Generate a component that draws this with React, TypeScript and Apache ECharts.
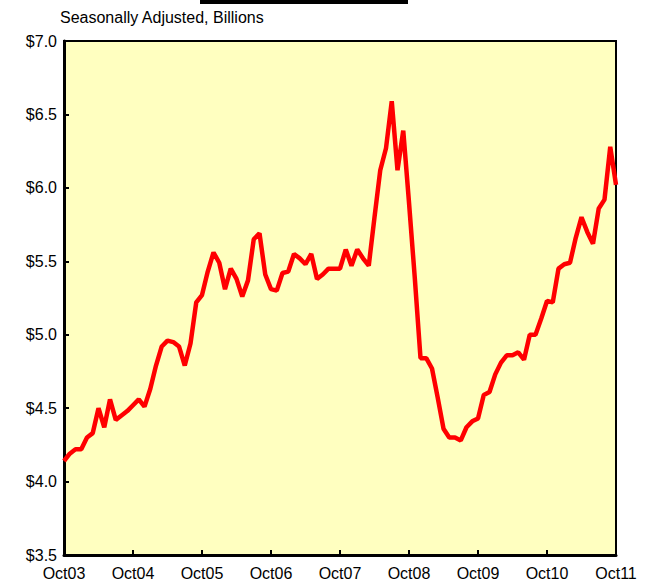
import React, { useEffect, useRef } from "react";
import * as echarts from "echarts";

const subtitle = "Seasonally Adjusted, Billions";
const yearLabels = ["Oct03", "Oct04", "Oct05", "Oct06", "Oct07", "Oct08", "Oct09", "Oct10", "Oct11"];
const monthNames = ["Oct", "Nov", "Dec", "Jan", "Feb", "Mar", "Apr", "May", "Jun", "Jul", "Aug", "Sep"];

const values = [
  4.14, 4.19, 4.22, 4.22, 4.30, 4.33, 4.50, 4.37, 4.56, 4.42, 4.45, 4.48,
  4.52, 4.56, 4.51, 4.63, 4.79, 4.92, 4.96, 4.95, 4.92, 4.79, 4.94, 5.22,
  5.27, 5.43, 5.56, 5.49, 5.31, 5.45, 5.38, 5.26, 5.37, 5.65, 5.69, 5.41,
  5.31, 5.30, 5.42, 5.43, 5.55, 5.52, 5.48, 5.55, 5.38, 5.41, 5.45, 5.45,
  5.45, 5.58, 5.47, 5.58, 5.52, 5.47, 5.80, 6.12, 6.27, 6.59, 6.12, 6.39,
  5.90, 5.39, 4.84, 4.84, 4.77, 4.57, 4.36, 4.30, 4.30, 4.28, 4.37, 4.41,
  4.43, 4.59, 4.61, 4.73, 4.81, 4.86, 4.86, 4.88, 4.83, 5.00, 5.00, 5.11,
  5.23, 5.22, 5.45, 5.48, 5.49, 5.66, 5.80, 5.70, 5.62, 5.86, 5.92, 6.28,
  6.02,
];

// month categories: Oct03 ... Oct11
const categories: string[] = values.map((_, i) => {
  const m = i % 12;
  const yr = 3 + Math.floor((i + 9) / 12);
  return monthNames[m] + String(yr).padStart(2, "0");
});

export default function App() {
  const ref = useRef<HTMLDivElement>(null);
  useEffect(() => {
    const chart = echarts.init(ref.current!, null, { renderer: "svg" });
    const font = "Arial, 'Liberation Sans', sans-serif";
    chart.setOption({
      animation: false,
      backgroundColor: "#ffffff",
      textStyle: { fontFamily: font },
      graphic: [
        { type: "rect", shape: { x: 200, y: 0, width: 208, height: 4 }, style: { fill: "#000" } },
        {
          type: "text",
          left: 60,
          top: 9,
          style: { text: subtitle, fontSize: 16, fill: "#000", fontFamily: font },
        },
      ],
      grid: {
        left: 64,
        right: 31,
        top: 41,
        bottom: 26,
        show: true,
        backgroundColor: "#FFFFC0",
        borderColor: "#000",
        borderWidth: 2,
      },
      xAxis: {
        type: "category",
        data: categories,
        boundaryGap: false,
        axisLine: { lineStyle: { color: "#000", width: 3 } },
        axisTick: {
          inside: true,
          length: 5,
          lineStyle: { color: "#000", width: 2 },
          interval: (i: number) => i % 12 === 0,
        },
        axisLabel: {
          color: "#000",
          fontSize: 16,
          margin: 10,
          interval: (i: number) => i % 12 === 0,
          formatter: (_v: string, i: number) => yearLabels[i / 12] ?? "",
        },
        splitLine: { show: false },
      },
      yAxis: {
        type: "value",
        min: 3.5,
        max: 7.0,
        interval: 0.5,
        axisLine: { show: true, lineStyle: { color: "#000", width: 3 } },
        axisTick: { show: true, inside: true, length: 5, lineStyle: { color: "#000", width: 2 } },
        axisLabel: {
          color: "#000",
          fontSize: 16,
          margin: 7,
          formatter: (v: number) => "$" + v.toFixed(1),
        },
        splitLine: { show: false },
      },
      series: [
        {
          type: "line",
          data: values,
          showSymbol: false,
          symbol: "none",
          lineStyle: { color: "#FF0000", width: 4.5 },
        },
      ],
    });
    return () => chart.dispose();
  }, []);
  return (
    <div
      ref={ref}
      style={{ position: "absolute", left: 0, top: 0, width: 647, height: 581 }}
    />
  );
}
